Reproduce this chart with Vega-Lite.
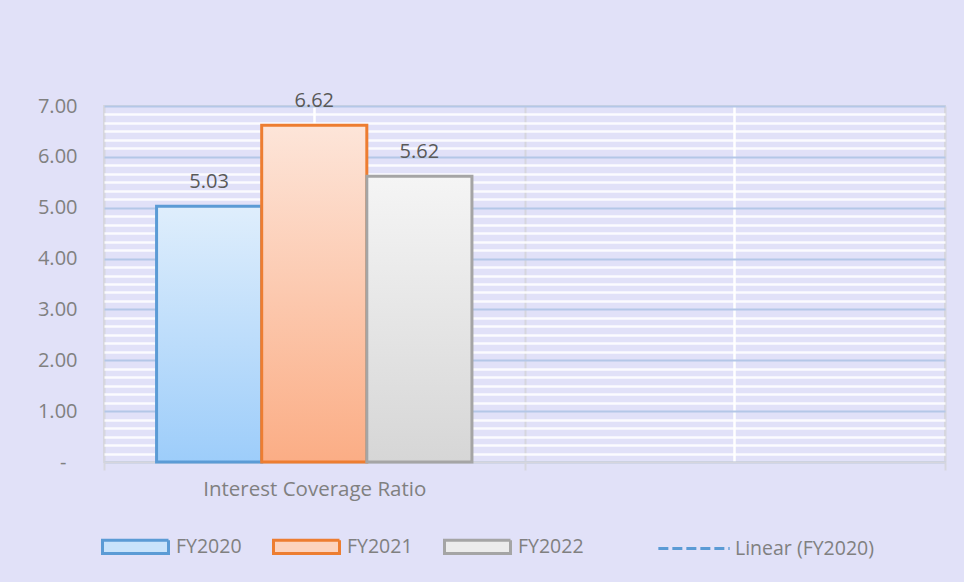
{
  "$schema": "https://vega.github.io/schema/vega-lite/v6.json",
  "width": 841,
  "height": 356,
  "autosize": "none",
  "padding": {"left": 104, "top": 106, "right": 19, "bottom": 120},
  "background": "#e1e1f8",
  "config": {
    "view": {"stroke": "#d6d6de", "strokeWidth": 2},
    "font": "Open Sans",
    "axis": {"labelFont": "Open Sans", "labelFontSize": 19, "labelColor": "#808080", "title": null},
    "legend": {"labelFont": "Open Sans"}
  },
  "data": {
    "values": [
      {"category": "Interest Coverage Ratio", "series": "FY2020", "value": 5.03},
      {"category": "Interest Coverage Ratio", "series": "FY2021", "value": 6.62},
      {"category": "Interest Coverage Ratio", "series": "FY2022", "value": 5.62}
    ]
  },
  "resolve": {"axis": {"x": "independent", "y": "independent"}},
  "layer": [
    {
      "mark": {"type": "bar", "strokeWidth": 3},
      "encoding": {
        "x": {
          "field": "category", "type": "nominal",
          "scale": {"domain": ["Interest Coverage Ratio", " "], "paddingInner": 0, "paddingOuter": 0},
          "axis": {
            "orient": "bottom", "grid": true, "gridColor": "#d6d6de", "gridWidth": 2, "tickBand": "extent",
            "domainColor": "#d6d6de", "domainWidth": 2, "tickColor": "#d6d6de", "tickWidth": 2, "tickSize": 8,
            "labelAngle": 0, "labelPadding": 9, "labelFontSize": 20.5, "labelLimit": 500
          }
        },
        "xOffset": {
          "field": "series", "type": "nominal",
          "scale": {"domain": ["FY2020", "FY2021", "FY2022"], "paddingInner": 0, "paddingOuter": 0.5}
        },
        "y": {
          "field": "value", "type": "quantitative",
          "scale": {"domain": [0, 7], "nice": false},
          "axis": {
            "orient": "left", "values": [0, 1, 2, 3, 4, 5, 6, 7], "grid": true, "gridColor": "#b4c7e7", "gridWidth": 2,
            "domain": false, "ticks": false, "labelFontSize": 20,
            "labelPadding": {"condition": {"test": "datum.value === 0", "value": 38}, "value": 27},
            "labelExpr": "datum.value === 0 ? '-' : format(datum.value, '.2f')"
          }
        },
        "fill": {
          "field": "series", "type": "nominal",
          "scale": {"domain": ["FY2020", "FY2021", "FY2022", "Linear (FY2020)"], "range": ["#c9e3fb", "#fcd3be", "#ececec", "rgba(0,0,0,0)"]},
          "condition": [
            {"test": "datum.series === 'FY2020'", "value": {"gradient": "linear", "x1": 0, "y1": 0, "x2": 0, "y2": 1, "stops": [{"offset": 0, "color": "#dfeefc"}, {"offset": 1, "color": "#9dcdfa"}]}},
            {"test": "datum.series === 'FY2021'", "value": {"gradient": "linear", "x1": 0, "y1": 0, "x2": 0, "y2": 1, "stops": [{"offset": 0, "color": "#fde5d9"}, {"offset": 1, "color": "#fbad85"}]}},
            {"test": "datum.series === 'FY2022'", "value": {"gradient": "linear", "x1": 0, "y1": 0, "x2": 0, "y2": 1, "stops": [{"offset": 0, "color": "#f5f5f5"}, {"offset": 1, "color": "#d6d6d6"}]}}
          ],
          "legend": {
            "title": null, "orient": "none", "legendX": -3, "legendY": 406, "direction": "horizontal", "columns": 4,
            "padding": 0, "symbolSize": 4356, "symbolType": "M-1,-0.2H1V0.2H-1Z", "symbolStrokeWidth": 3,
            "labelFontSize": 19.5, "labelColor": "#808080", "labelOffset": 6, "columnPadding": 25, "labelLimit": 500,
            "encode": {
              "symbols": {
                "update": {
                  "x": {"signal": "datum.value === 'Linear (FY2020)' ? 85 : 34.5"},
                  "shape": {"signal": "datum.value === 'Linear (FY2020)' ? 'M-1.08,0H1.08' : 'M-1,-0.2H1V0.2H-1Z'"},
                  "stroke": {"signal": "datum.value === 'FY2021' ? '#ed7d31' : datum.value === 'FY2022' ? '#a5a5a5' : '#5b9bd5'"},
                  "strokeDash": {"signal": "datum.value === 'Linear (FY2020)' ? [10, 4] : [1, 0]"},
                  "strokeWidth": {"value": 3},
                  "opacity": {"value": 1}
                }
              },
              "labels": {
                "update": {
                  "dx": {"signal": "datum.value === 'Linear (FY2020)' ? 51 : 0"}
                }
              }
            }
          }
        },
        "stroke": {
          "field": "series", "type": "nominal",
          "scale": {"domain": ["FY2020", "FY2021", "FY2022", "Linear (FY2020)"], "range": ["#5b9bd5", "#ed7d31", "#a5a5a5", "#5b9bd5"]},
          "legend": null
        }
      }
    },
    {
      "mark": {"type": "text", "fontSize": 20, "color": "#595959", "baseline": "alphabetic", "dy": -18},
      "encoding": {
        "x": {
          "field": "category", "type": "nominal",
          "axis": {"orient": "top", "grid": true, "gridColor": "#ffffff", "gridWidth": 2.5, "bandPosition": 0.5, "labels": false, "ticks": false, "domain": false}
        },
        "xOffset": {"field": "series", "type": "nominal"},
        "y": {
          "field": "value", "type": "quantitative",
          "axis": {
            "orient": "right", "grid": true, "gridColor": "#ffffff", "gridWidth": 2.5, "gridOpacity": 0.85,
            "labels": false, "ticks": false, "domain": false,
            "values": [0.1667, 0.3333, 0.5, 0.6667, 0.8333, 1.1667, 1.3333, 1.5, 1.6667, 1.8333, 2.1667, 2.3333, 2.5, 2.6667, 2.8333, 3.1667, 3.3333, 3.5, 3.6667, 3.8333, 4.1667, 4.3333, 4.5, 4.6667, 4.8333, 5.1667, 5.3333, 5.5, 5.6667, 5.8333, 6.1667, 6.3333, 6.5, 6.6667, 6.8333]
          }
        },
        "text": {"field": "value", "type": "quantitative", "format": ".2f"}
      }
    }
  ]
}
